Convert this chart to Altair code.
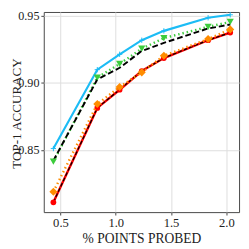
import altair as alt
import pandas as pd

x_vals = [0.436, 0.833, 1.035, 1.235, 1.435, 1.835, 2.035]
cyan_vals = [0.851, 0.910, 0.9215, 0.932, 0.939, 0.9488, 0.951]
green_vals = [0.8413, 0.904, 0.9143, 0.9257, 0.9336, 0.942, 0.9457]
black_dash_vals = [0.842, 0.9027, 0.9114, 0.924, 0.930, 0.9408, 0.9437]
red_vals = [0.8108, 0.8814, 0.895, 0.909, 0.9187, 0.932, 0.9377]
orange_vals = [0.8187, 0.8843, 0.897, 0.908, 0.9204, 0.9329, 0.9401]

rows = []
for name, vals in [("cyan", cyan_vals), ("green", green_vals), ("blackdash", black_dash_vals),
                   ("red", red_vals), ("orange", orange_vals)]:
    for xv, yv in zip(x_vals, vals):
        rows.append({"series": name, "x": xv, "y": yv})
df = pd.DataFrame(rows)

FONT = "Liberation Serif"
xs = alt.Scale(domain=[0.349, 2.115], nice=False, zero=False)
ys = alt.Scale(domain=[0.8035, 0.9531], nice=False, zero=False)

X = alt.X("x:Q", scale=xs, title="% POINTS PROBED",
          axis=alt.Axis(values=[0.5, 1.0, 1.5, 2.0], format=".1f", grid=True,
                        titleFontSize=14))
Y = alt.Y("y:Q", scale=ys, title="TOP-1 ACCURACY",
          axis=alt.Axis(values=[0.85, 0.90, 0.95], format=".2f", grid=True,
                        titleFontSize=13.5, labelFontSize=12.5,
                        titleX=-28.5, titleY=104.5, titleAlign="center", titleBaseline="middle"))

base = alt.Chart(df)

def line(name, color, width, dash=None, opacity=1.0):
    kw = dict(color=color, strokeWidth=width, opacity=opacity, clip=True)
    if dash:
        kw["strokeDash"] = dash
    return base.transform_filter(alt.datum.series == name).mark_line(**kw).encode(x=X, y=Y)

def pts(name, color, shape, size, filled=True, sw=0):
    return base.transform_filter(alt.datum.series == name).mark_point(
        shape=shape, size=size, filled=filled, color=color, opacity=1, strokeWidth=sw
    ).encode(x=X, y=Y)

layers = [
    line("cyan", "#1cbcf5", 2.2),
    pts("cyan", "#1cbcf5", "M-1,0H1M0,-1V1", 30, filled=False, sw=1),
    line("green", "#3ccc3c", 2.5, [1.5, 3]),
    line("blackdash", "#000000", 2, [6, 3]),
    pts("green", "#3ccc3c", "triangle-down", 55),
    line("red", "#ff0000", 2.5),
    line("red", "#000000", 1.2, [4, 2]),
    pts("red", "#ff0000", "circle", 35),
    line("orange", "#ff8c00", 2.5, [1.5, 3]),
    pts("orange", "#ff8c00", "diamond", 70),
]

chart = alt.layer(*layers).properties(
    width=202, height=207,
    autosize=alt.AutoSizeParams(type="none"),
    padding={"left": 37, "top": 0, "right": 2, "bottom": 34},
).configure_view(
    stroke="#444444", strokeWidth=1
).configure_axis(
    labelFont=FONT, titleFont=FONT, labelFontSize=13,
    labelColor="#222222", titleColor="#222222", titleFontWeight="normal",
    gridColor="#dddddd", gridWidth=1, domain=False,
    tickColor="#444444", tickSize=3, labelPadding=2,
).configure_axisX(
    titlePadding=2,
)

chart.save("out.html", embed_options={"renderer": "svg", "actions": False})
